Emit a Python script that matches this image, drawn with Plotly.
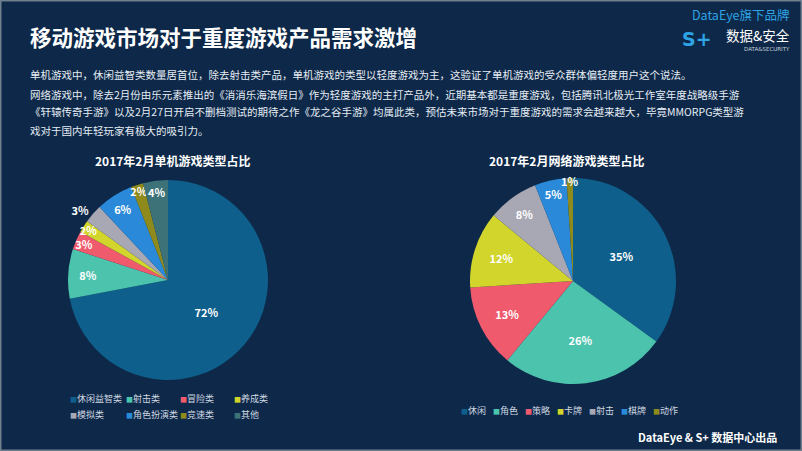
import plotly.graph_objects as go

W, H = 802, 451

# ---------------- data ----------------
left_labels = ["休闲益智类", "射击类", "冒险类", "养成类", "模拟类", "角色扮演类", "竞速类", "其他"]
left_values = [72, 8, 3, 2, 3, 6, 2, 4]
left_colors = ["#0f5f8c", "#4cc3ad", "#ef5b6d", "#d2d52b", "#a8a8b4", "#2a8ad9", "#8f8a1c", "#3d7278"]
left_textpos = ["inside", "inside", "inside", "inside", "outside", "inside", "inside", "inside"]

right_labels = ["休闲", "角色", "策略", "卡牌", "射击", "棋牌", "动作"]
right_values = [35, 26, 13, 12, 8, 5, 1]
right_colors = ["#0f5f8c", "#4cc3ad", "#ef5b6d", "#d2d52b", "#a8a8b4", "#2a8ad9", "#8f8a1c"]

title_text = "移动游戏市场对于重度游戏产品需求激增"
para_lines = [
    "单机游戏中，休闲益智类数量居首位，除去射击类产品，单机游戏的类型以轻度游戏为主，这验证了单机游戏的受众群体偏轻度用户这个说法。",
    "网络游戏中，除去2月份由乐元素推出的《消消乐海滨假日》作为轻度游戏的主打产品外，近期基本都是重度游戏，包括腾讯北极光工作室年度战略级手游",
    "《轩辕传奇手游》以及2月27日开启不删档测试的期待之作《龙之谷手游》均属此类，预估未来市场对于重度游戏的需求会越来越大，毕竟MMORPG类型游",
    "戏对于国内年轻玩家有极大的吸引力。",
]
left_title = "2017年2月单机游戏类型占比"
right_title = "2017年2月网络游戏类型占比"
footer = "DataEye & S+ 数据中心出品"

FONT = "Noto Sans CJK SC"


def px_x(x):
    return x / W


def px_y(y):
    return 1 - y / H


fig = go.Figure()

# left pie: centre (168,280), r ~100
fig.add_trace(go.Pie(
    labels=left_labels, values=left_values, sort=False, direction="clockwise", rotation=0,
    marker=dict(colors=left_colors, line=dict(width=0)),
    textinfo="percent", texttemplate="%{value}%",
    textposition=left_textpos, insidetextorientation="horizontal",
    textfont=dict(family=FONT, size=11, color="white", weight="bold"),
    domain=dict(x=[px_x(68), px_x(268)], y=[px_y(380), px_y(180)]),
    showlegend=False, hoverinfo="label+percent",
))

# right pie: centre (573,281), r ~103
fig.add_trace(go.Pie(
    labels=right_labels, values=right_values, sort=False, direction="clockwise", rotation=0,
    marker=dict(colors=right_colors, line=dict(width=0)),
    textinfo="percent", texttemplate="%{value}%",
    textposition="inside", insidetextorientation="horizontal",
    textfont=dict(family=FONT, size=11, color="white", weight="bold"),
    domain=dict(x=[px_x(470), px_x(676)], y=[px_y(384), px_y(178)]),
    showlegend=False, hoverinfo="label+percent",
))

ann = []

ann.append(dict(x=px_x(28), y=px_y(36), xref="paper", yref="paper", text=f"<b>{title_text}</b>",
                showarrow=False, xanchor="left", yanchor="middle",
                font=dict(family=FONT, size=21.5, color="white")))

for i, (ln, yy) in enumerate(zip(para_lines, [75, 94, 112, 130])):
    ann.append(dict(x=px_x(28), y=px_y(yy), xref="paper", yref="paper", text=ln,
                    showarrow=False, xanchor="left", yanchor="middle",
                    font=dict(family=FONT, size=10.5, color="#e6edf5")))

ann.append(dict(x=px_x(172), y=px_y(160), xref="paper", yref="paper", text=f"<b>{left_title}</b>",
                showarrow=False, xanchor="center", yanchor="middle",
                font=dict(family=FONT, size=12, color="white")))
ann.append(dict(x=px_x(566), y=px_y(160), xref="paper", yref="paper", text=f"<b>{right_title}</b>",
                showarrow=False, xanchor="center", yanchor="middle",
                font=dict(family=FONT, size=12, color="white")))

# custom legends
lx = [68, 124, 178, 232]
for i, (lab, col) in enumerate(zip(left_labels, left_colors)):
    ann.append(dict(x=px_x(lx[i % 4]), y=px_y(398 + 16 * (i // 4)), xref="paper", yref="paper",
                    text=f"<span style='color:{col};font-size:7px'>■</span>{lab}", showarrow=False,
                    xanchor="left", yanchor="middle",
                    font=dict(family=FONT, size=9, color="#cfd8e2")))
rx = 459
for lab, col in zip(right_labels, right_colors):
    ann.append(dict(x=px_x(rx), y=px_y(410), xref="paper", yref="paper",
                    text=f"<span style='color:{col};font-size:7px'>■</span>{lab}", showarrow=False,
                    xanchor="left", yanchor="middle",
                    font=dict(family=FONT, size=9, color="#cfd8e2")))
    rx += 32

ann.append(dict(x=px_x(779), y=px_y(437), xref="paper", yref="paper", text=f"<b>{footer}</b>",
                showarrow=False, xanchor="right", yanchor="middle",
                font=dict(family=FONT, size=11, color="white")))

# logo
ann.append(dict(x=px_x(791), y=px_y(15), xref="paper", yref="paper", text="DataEye旗下品牌",
                showarrow=False, xanchor="right", yanchor="middle", borderpad=0,
                font=dict(family=FONT, size=12.5, color="#2ea3e6")))
ann.append(dict(x=px_x(791), y=px_y(35), xref="paper", yref="paper", text="数据&安全",
                showarrow=False, xanchor="right", yanchor="middle", borderpad=0,
                font=dict(family=FONT, size=13.5, color="white")))
ann.append(dict(x=px_x(791), y=px_y(48.5), xref="paper", yref="paper", text="DATA&SECURITY",
                showarrow=False, xanchor="right", yanchor="middle", borderpad=0,
                font=dict(family="DejaVu Sans", size=5.5, color="#c8d2dc")))
ann.append(dict(x=px_x(697), y=px_y(39), xref="paper", yref="paper", text="<b>S+</b>",
                showarrow=False, xanchor="center", yanchor="middle",
                font=dict(family="DejaVu Sans", size=19, color="#2ea3e6")))

fig.update_layout(
    width=W, height=H,
    margin=dict(l=0, r=0, t=0, b=0),
    paper_bgcolor="#0d2848", plot_bgcolor="#0d2848",
    uniformtext=dict(minsize=11, mode="show"),
    annotations=ann,
    shapes=[dict(type="rect", xref="paper", yref="paper", x0=0, y0=0, x1=1, y1=1,
                 line=dict(color="#6f7f8e", width=3))],
)

fig.write_html("out.html")
